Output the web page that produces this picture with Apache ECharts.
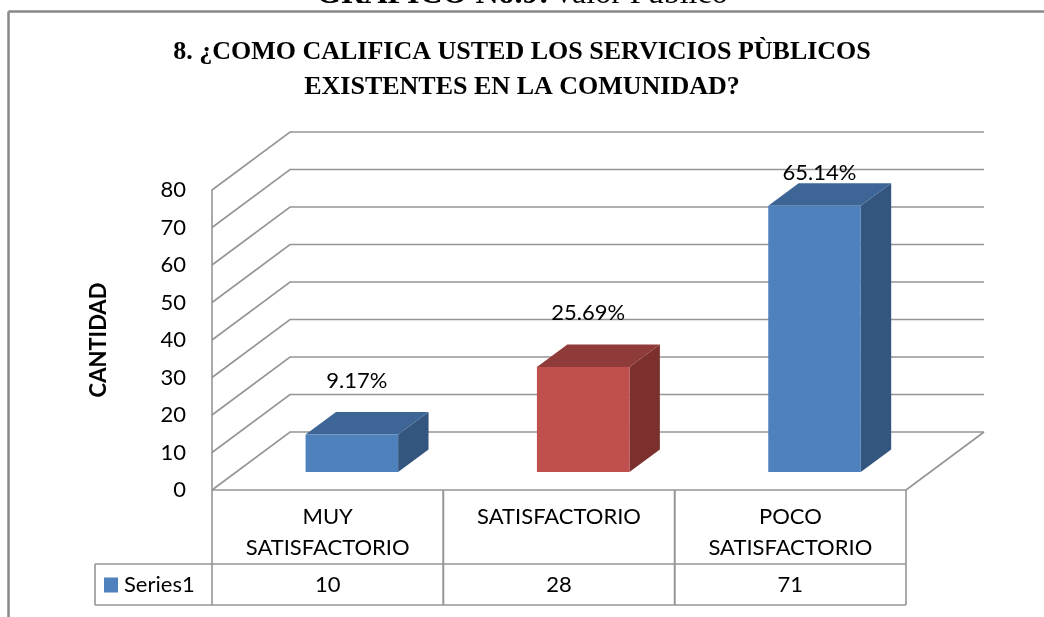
<!DOCTYPE html>
<html>
<head>
<meta charset="utf-8">
<script src="https://cdn.jsdelivr.net/npm/echarts@6/dist/echarts.min.js"></script>
<style>
  html, body { margin: 0; padding: 0; background: #fff; }
  #chart { width: 1044px; height: 617px; }
</style>
</head>
<body>
<div id="chart"></div>
<script>
// data
const categories = ['MUY\nSATISFACTORIO', 'SATISFACTORIO', 'POCO\nSATISFACTORIO'];
const values = [10, 28, 71];
const yTicks = [0, 10, 20, 30, 40, 50, 60, 70, 80];
const seriesName = 'Series1';

const total = values.reduce((a, b) => a + b, 0);

// 3D look: depth of the walls in pixels, bar placement inside that depth
const DX = 78, DY = -58;
const BAR_START = 0.31, BAR_DEPTH = 0.39, BAR_W = 0.4;
const GRID_COLOR = '#959595';
const FONT = 'Lato';
const FS = 22;
const faces = [
  { front: '#4F81BD', top: '#3D6697', side: '#34557D' },
  { front: '#C0504D', top: '#8F3B39', side: '#7B302E' },
  { front: '#4F81BD', top: '#3D6697', side: '#34557D' }
];

const chart = echarts.init(document.getElementById('chart'));

function renderWalls(params, api) {
  const cs = params.coordSys;
  const v = api.value(1);
  const y = api.coord([0, v])[1];
  const x0 = cs.x, x1 = cs.x + cs.width;
  const line = { stroke: GRID_COLOR, lineWidth: 1.6, fill: 'none' };
  const children = [
    { type: 'polyline', shape: { points: [[x0, y], [x0 + DX, y + DY], [x1 + DX, y + DY]] }, style: line }
  ];
  if (v === 0) {
    children.push({ type: 'line', shape: { x1: x1, y1: y, x2: x1 + DX, y2: y + DY }, style: line });
  }
  return { type: 'group', children };
}

function renderBar(params, api) {
  const cs = params.coordSys;
  const i = api.value(0), v = api.value(1);
  const base = api.coord([i, 0]);
  const top = api.coord([i, v]);
  const band = api.size([1, 0])[0];
  const w = band * BAR_W;
  const ox = DX * BAR_START, oy = DY * BAR_START;
  const dx = DX * BAR_DEPTH, dy = DY * BAR_DEPTH;
  const xl = base[0] + ox - w / 2, xr = xl + w;
  const yb = base[1] + oy, yt = top[1] + oy;
  const f = faces[i];
  const pct = (v / total * 100).toFixed(2) + '%';
  // keep the label inside the back wall
  const labelY = Math.max(yt - 54, cs.y + DY + 41);
  return {
    type: 'group',
    children: [
      { type: 'polygon', shape: { points: [[xr, yb], [xr + dx, yb + dy], [xr + dx, yt + dy], [xr, yt]] }, style: { fill: f.side } },
      { type: 'polygon', shape: { points: [[xl, yt], [xr, yt], [xr + dx, yt + dy], [xl + dx, yt + dy]] }, style: { fill: f.top } },
      { type: 'rect', shape: { x: xl, y: yt, width: w, height: yb - yt }, style: { fill: f.front } },
      { type: 'text', style: { text: pct, x: (xl + xr) / 2 + 5, y: labelY, align: 'center', verticalAlign: 'middle', font: FS + 'px ' + FONT, fill: '#000' } }
    ]
  };
}

function renderTable(params, api) {
  const cs = params.coordSys;
  const i = api.value(0), v = api.value(1);
  const c = api.coord([i, 0]);
  const band = api.size([1, 0])[0];
  const xl = c[0] - band / 2, xr = c[0] + band / 2;
  const y0 = cs.y + cs.height, y1 = y0 + 74, y2 = y0 + 115;
  const line = { stroke: GRID_COLOR, lineWidth: 1.6 };
  const children = [
    { type: 'line', shape: { x1: xl, y1: y0, x2: xr, y2: y0 }, style: line },
    { type: 'line', shape: { x1: xl, y1: y1, x2: xr, y2: y1 }, style: line },
    { type: 'line', shape: { x1: xl, y1: y2, x2: xr, y2: y2 }, style: line },
    { type: 'line', shape: { x1: xl, y1: y0, x2: xl, y2: y2 }, style: line },
    { type: 'line', shape: { x1: xr, y1: y0, x2: xr, y2: y2 }, style: line },
    { type: 'text', style: { text: String(v), x: c[0], y: (y1 + y2) / 2, align: 'center', verticalAlign: 'middle', font: FS + 'px ' + FONT, fill: '#000' } }
  ];
  if (i === 0) {
    const hx = xl - 117;
    children.push(
      { type: 'line', shape: { x1: hx, y1: y1, x2: xl, y2: y1 }, style: line },
      { type: 'line', shape: { x1: hx, y1: y2, x2: xl, y2: y2 }, style: line },
      { type: 'line', shape: { x1: hx, y1: y1, x2: hx, y2: y2 }, style: line },
      { type: 'rect', shape: { x: hx + 9, y: (y1 + y2) / 2 - 7, width: 14, height: 15 }, style: { fill: faces[0].front } },
      { type: 'text', style: { text: seriesName, x: hx + 29, y: (y1 + y2) / 2, align: 'left', verticalAlign: 'middle', font: FS + 'px ' + FONT, fill: '#000' } }
    );
  }
  return { type: 'group', children };
}

const option = {
  animation: false,
  backgroundColor: '#fff',
  title: {
    text: '8. ¿COMO CALIFICA USTED LOS SERVICIOS PÙBLICOS\nEXISTENTES EN LA COMUNIDAD?',
    left: 'center',
    top: 30,
    textStyle: { fontFamily: 'Liberation Serif', fontWeight: 'bold', fontSize: 26, lineHeight: 35, color: '#000' }
  },
  graphic: [
    { type: 'line', shape: { x1: 8.5, y1: 11.5, x2: 1044, y2: 11.5 }, style: { stroke: '#888', lineWidth: 2.5 } },
    { type: 'line', shape: { x1: 8.5, y1: 11.5, x2: 8.5, y2: 617 }, style: { stroke: '#888', lineWidth: 2.5 } },
    {
      type: 'text', left: 'center', top: -21, z: -1,
      style: {
        text: '{b|GRAFICO No.9:} {n|Valor Público}',
        rich: {
          b: { fontFamily: 'Liberation Serif', fontWeight: 'bold', fontSize: 32, fill: '#000' },
          n: { fontFamily: 'Liberation Serif', fontSize: 32, fill: '#000' }
        }
      }
    }
  ],
  grid: { left: 212, right: 138, top: 190, bottom: 127 },
  xAxis: {
    type: 'category',
    data: categories,
    axisLine: { show: false },
    axisTick: { show: false },
    axisLabel: { margin: 11, fontFamily: FONT, fontSize: FS, lineHeight: 31, verticalAlign: 'top', color: '#000' }
  },
  yAxis: {
    type: 'value',
    min: 0,
    max: 80,
    interval: 10,
    name: 'CANTIDAD',
    nameLocation: 'middle',
    nameRotate: 90,
    nameGap: 102,
    nameTextStyle: { fontFamily: FONT, fontWeight: 'bold', fontSize: FS, color: '#000' },
    axisLine: { show: true, lineStyle: { color: GRID_COLOR, width: 1.6 } },
    axisTick: { show: false },
    splitLine: { show: false },
    axisLabel: { margin: 26, fontFamily: FONT, fontSize: FS, color: '#000' }
  },
  series: [
    { type: 'custom', name: 'walls', renderItem: renderWalls, data: yTicks.map(v => [0, v]), z: 1, silent: true },
    { type: 'custom', name: 'table', renderItem: renderTable, data: values.map((v, i) => [i, v]), z: 2, silent: true },
    { type: 'custom', name: seriesName, renderItem: renderBar, data: values.map((v, i) => [i, v]), z: 3 }
  ]
};

chart.setOption(option);
</script>
</body>
</html>
